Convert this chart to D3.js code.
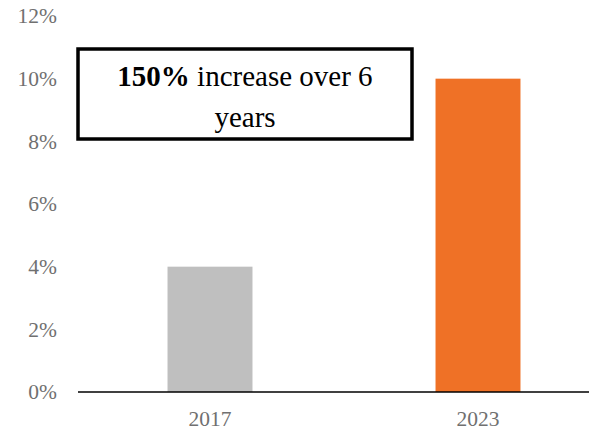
<!DOCTYPE html>
<html lang="en">
<head>
<meta charset="UTF-8">
<title>Increase chart</title>
<script src="https://d3js.org/d3.v7.min.js"></script>
<style>
  body { margin: 0; background: #fff; }
</style>
</head>
<body>
<div id="chart"></div>
<script>
// data
var years = ["2017", "2023"];
var shares = [0.04, 0.10];
var barColors = ["#bfbfbf", "#ef7126"];
var yTicks = [0, 0.02, 0.04, 0.06, 0.08, 0.10, 0.12];

var width = 589, height = 430;
var serif = "'Liberation Serif', 'DejaVu Serif', serif";

var svg = d3.select("#chart").append("svg")
    .attr("width", width)
    .attr("height", height);

var x = d3.scaleBand()
    .domain(years)
    .range([76, 612])
    .paddingInner(0.683)
    .paddingOuter(0.3415);

var y = d3.scaleLinear()
    .domain([0, 0.12])
    .range([392, 16]);

// bars
svg.append("g")
    .selectAll("rect")
    .data(years)
    .join("rect")
    .attr("x", function (d) { return x(d); })
    .attr("y", function (d, i) { return y(shares[i]); })
    .attr("width", x.bandwidth())
    .attr("height", function (d, i) { return y(0) - y(shares[i]); })
    .attr("fill", function (d, i) { return barColors[i]; });

// y axis labels (no line)
var yAxis = d3.axisLeft(y)
    .tickValues(yTicks)
    .tickFormat(d3.format(".0%"))
    .tickSize(0)
    .tickPadding(0);

svg.append("g")
    .attr("transform", "translate(57,0)")
    .call(yAxis)
    .attr("font-family", null)
    .call(function (g) { g.select(".domain").remove(); })
    .selectAll("text")
    .attr("fill", "#707070")
    .style("font-family", serif)
    .style("font-size", "21.5px");

// x axis
var xAxis = d3.axisBottom(x).tickSize(0).tickPadding(19);
svg.append("g")
    .attr("transform", "translate(0," + y(0) + ")")
    .call(xAxis)
    .attr("font-family", null)
    .call(function (g) { g.select(".domain").remove(); })
    .selectAll("text")
    .attr("fill", "#707070")
    .style("font-family", serif)
    .style("font-size", "21.5px");

svg.append("line")
    .attr("x1", 78).attr("x2", width)
    .attr("y1", y(0)).attr("y2", y(0))
    .attr("stroke", "#000")
    .attr("stroke-width", 1.5);

// annotation box
svg.append("rect")
    .attr("x", 78).attr("y", 49)
    .attr("width", 334).attr("height", 90)
    .attr("fill", "#fff")
    .attr("stroke", "#000")
    .attr("stroke-width", 3.5);

var note = svg.append("text")
    .attr("x", 245).attr("y", 86)
    .attr("text-anchor", "middle")
    .style("font-family", serif)
    .style("font-size", "29px")
    .attr("fill", "#000");
note.append("tspan").attr("font-weight", "bold").text("150%");
note.append("tspan").text(" increase over 6");

svg.append("text")
    .attr("x", 245).attr("y", 127)
    .attr("text-anchor", "middle")
    .style("font-family", serif)
    .style("font-size", "29px")
    .attr("fill", "#000")
    .text("years");
</script>
</body>
</html>
